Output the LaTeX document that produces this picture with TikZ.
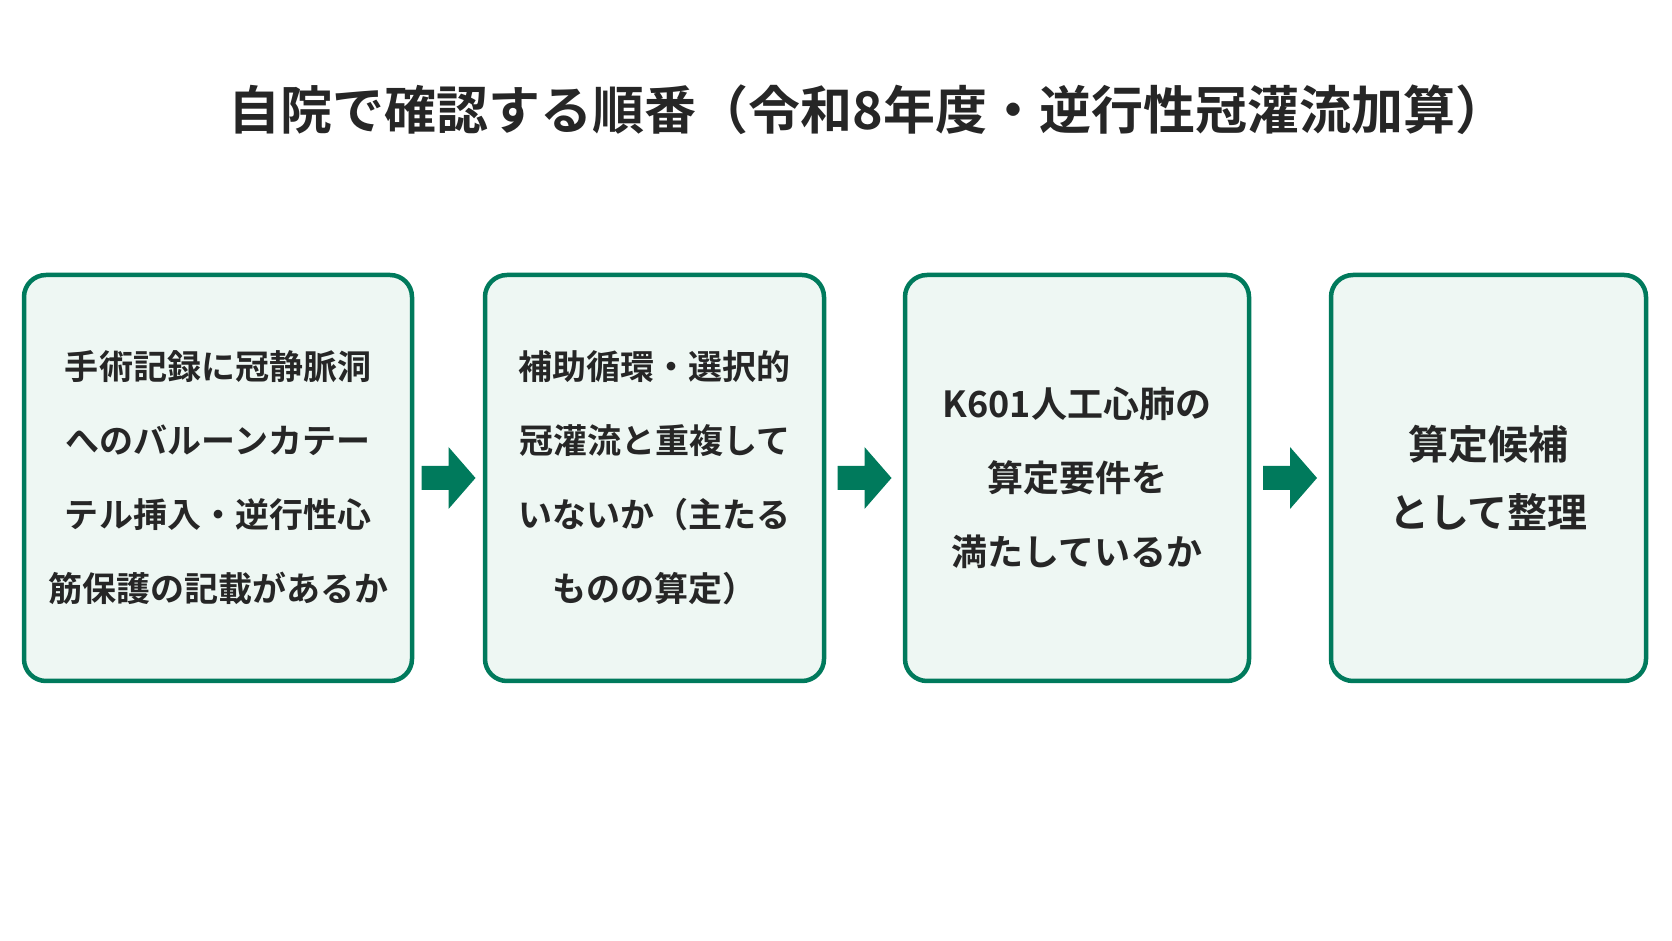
\documentclass[tikz,border=0pt]{standalone}
\usepackage{fontspec}
\setmainfont{Noto Sans CJK JP}[BoldFont={Noto Sans CJK JP Bold}]
\usetikzlibrary{calc}
\definecolor{stepgreen}{RGB}{0,122,92}
\definecolor{stepfill}{RGB}{238,247,243}
\tikzset{
  stepbox/.style={draw=stepgreen, line width=4.5pt, fill=stepfill, rounded corners=22pt,
    minimum height=406pt, align=center, font=\fontsize{34}{74}\selectfont\bfseries, text=black!85},
  bigtext/.style={font=\fontsize{40}{68}\selectfont\bfseries},
  flow/.style={fill=stepgreen}
}
\newcommand{\blockarrow}[1]{%
  \fill[flow, shift={(#1)}] (-27,-12) -- (0,-12) -- (0,-31) -- (27,0) -- (0,31) -- (0,12) -- (-27,12) -- cycle;}
\begin{document}
\begin{tikzpicture}[x=1pt,y=1pt]
    \useasboundingbox (0,0) rectangle (1672,941);
    \node[font=\fontsize{52}{60}\selectfont\bfseries, text=black!85] (title) at (868,831)
      {自院で確認する順番（令和8年度・逆行性冠灌流加算）};
    \node[stepbox, minimum width=388pt] (rec) at (218,463)
      {手術記録に冠静脈洞\\へのバルーンカテー\\テル挿入・逆行性心\\筋保護の記載があるか};
    \node[stepbox, minimum width=339pt] (dup) at (654.5,463)
      {補助循環・選択的\\冠灌流と重複して\\いないか（主たる\\ものの算定）};
    \node[stepbox, minimum width=344pt, font=\fontsize{36}{74}\selectfont\bfseries] (req) at (1077,463)
      {K601人工心肺の\\算定要件を\\満たしているか};
    \node[stepbox, minimum width=315pt, bigtext] (cand) at (1488.5,463)
      {算定候補\\として整理};
    % arrows between steps
    \coordinate (a1) at ($(rec.east)!0.5!(dup.west)$);
    \coordinate (a2) at ($(dup.east)!0.5!(req.west)$);
    \coordinate (a3) at ($(req.east)!0.5!(cand.west)$);
    \blockarrow{a1}
    \blockarrow{a2}
    \blockarrow{a3}
\end{tikzpicture}
\end{document}
